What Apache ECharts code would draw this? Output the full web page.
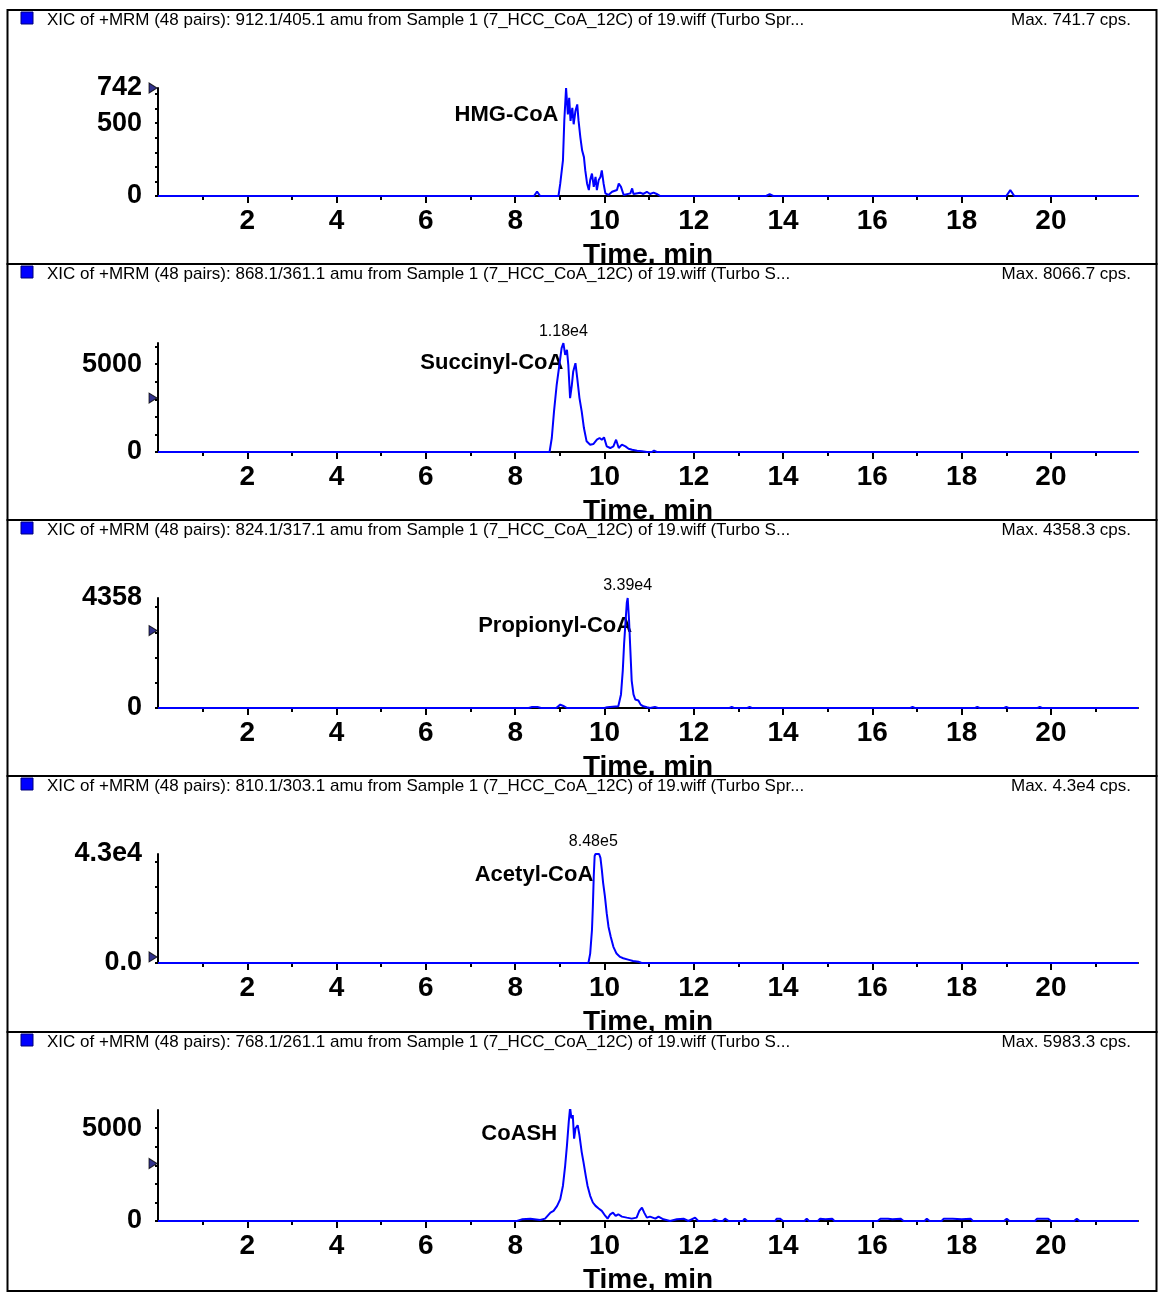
<!DOCTYPE html>
<html><head><meta charset="utf-8">
<script src="https://cdn.jsdelivr.net/npm/echarts@6/dist/echarts.min.js"></script>
<style>html,body{margin:0;padding:0;background:#fff}#c{width:1159px;height:1295px}</style>
</head><body><div id="c"></div>
<script>
// ---------------- DATA ----------------
const compoundNames = ['HMG-CoA', 'Succinyl-CoA', 'Propionyl-CoA', 'Acetyl-CoA', 'CoASH'];
const headerTexts = [
  'XIC of +MRM (48 pairs): 912.1/405.1 amu from Sample 1 (7_HCC_CoA_12C) of 19.wiff (Turbo Spr...',
  'XIC of +MRM (48 pairs): 868.1/361.1 amu from Sample 1 (7_HCC_CoA_12C) of 19.wiff (Turbo S...',
  'XIC of +MRM (48 pairs): 824.1/317.1 amu from Sample 1 (7_HCC_CoA_12C) of 19.wiff (Turbo S...',
  'XIC of +MRM (48 pairs): 810.1/303.1 amu from Sample 1 (7_HCC_CoA_12C) of 19.wiff (Turbo Spr...',
  'XIC of +MRM (48 pairs): 768.1/261.1 amu from Sample 1 (7_HCC_CoA_12C) of 19.wiff (Turbo S...'
];
const maxTexts = ['Max. 741.7 cps.', 'Max. 8066.7 cps.', 'Max. 4358.3 cps.', 'Max. 4.3e4 cps.', 'Max. 5983.3 cps.'];
const xAxisName = 'Time, min';
const xMax = 21.95;
const xMajorTicks = [2, 4, 6, 8, 10, 12, 14, 16, 18, 20];
const xMinorTicks = [1, 3, 5, 7, 9, 11, 13, 15, 17, 19, 21];
const yMax = [742, 6200, 4358, 43000, 5983];
const yLabelValues = [[0, 500, 742], [0, 5000], [0, 4358], [0, 43000], [0, 5000]];
const yLabelTexts = [['0', '500', '742'], ['0', '5000'], ['0', '4358'], ['0.0', '4.3e4'], ['0', '5000']];
const yTickValues = [
  [0, 100, 200, 300, 400, 500, 600, 700],
  [0, 1000, 2000, 3000, 4000, 5000, 6000],
  [0, 1000, 2000, 3000, 4000],
  [0, 10000, 20000, 30000, 40000],
  [0, 1000, 2000, 3000, 4000, 5000]
];
const thresholdMarks = [742, 3067, 3067, 2400, 3098];
const nameAnchors = [[8.97, 556], [9.08, 5055], [10.62, 3268], [9.75, 34600], [8.94, 4674]];
const peakLabels = [null, '1.18e4', '3.39e4', '8.48e5', '5.01e4'];
const peakLabelAnchors = [null, [9.08, 6190], [10.52, 4358], [9.75, 43000], [9.23, 6106]];

const hmgPoints = [[0,0],[8.42,0],[8.49,30],[8.56,0],[8.97,0],[9.01,86],[9.07,244],[9.10,516],[9.14,742],[9.18,561],[9.21,674],[9.24,516],[9.28,606],[9.31,493],[9.35,584],[9.39,629],[9.42,516],[9.46,403],[9.50,312],[9.54,267],[9.57,176],[9.61,86],[9.65,41],[9.68,109],[9.72,154],[9.76,63],[9.80,131],[9.83,41],[9.87,109],[9.91,131],[9.94,176],[9.98,86],[10.02,18],[10.09,7],[10.17,29],[10.28,41],[10.32,86],[10.37,63],[10.43,7],[10.58,18],[10.62,52],[10.65,14],[10.80,23],[10.87,14],[10.95,29],[11.02,14],[11.10,23],[11.17,14],[11.25,0],[13.62,0],[13.70,12],[13.78,0],[19.00,0],[19.09,40],[19.18,0],[21.95,0]];
const succinylPoints = [[0,0],[8.77,0],[8.82,795],[8.87,2310],[8.93,3824],[8.99,4960],[9.04,5906],[9.08,6190],[9.12,5528],[9.16,5812],[9.19,4960],[9.23,3067],[9.27,3824],[9.30,4581],[9.35,5054],[9.39,4203],[9.44,3067],[9.49,2310],[9.54,1363],[9.60,606],[9.68,416],[9.75,454],[9.83,700],[9.89,795],[9.94,700],[9.99,833],[10.05,322],[10.13,227],[10.20,322],[10.26,700],[10.32,227],[10.39,416],[10.47,322],[10.54,189],[10.62,132],[10.73,76],[10.84,38],[10.95,0],[11.06,0],[11.11,76],[11.17,0],[21.95,0]];
const propionylPoints = [[0,0],[8.30,0],[8.38,40],[8.50,40],[8.58,0],[8.92,0],[9.01,134],[9.08,80],[9.16,0],[10.00,0],[10.06,27],[10.31,67],[10.37,538],[10.41,1480],[10.44,2556],[10.47,3363],[10.50,4170],[10.52,4358],[10.55,3497],[10.58,2287],[10.61,1076],[10.65,538],[10.69,336],[10.76,296],[10.81,134],[10.87,67],[10.95,27],[11.02,0],[11.13,40],[11.20,0],[12.80,0],[12.85,40],[12.90,0],[13.20,0],[13.25,40],[13.30,0],[16.85,0],[16.90,40],[16.95,0],[18.30,0],[18.35,40],[18.40,0],[18.95,0],[19.00,40],[19.05,0],[19.70,0],[19.75,40],[19.80,0],[21.95,0]];
const acetylPoints = [[0,0],[9.64,0],[9.68,3716],[9.72,13000],[9.74,22290],[9.76,34240],[9.78,42200],[9.80,43000],[9.88,43000],[9.91,41500],[9.94,36900],[9.97,31580],[10.01,26270],[10.05,19640],[10.09,14330],[10.14,10350],[10.20,6370],[10.27,3716],[10.35,2390],[10.42,1860],[10.53,1330],[10.64,800],[10.76,530],[10.83,0],[21.95,0]];
const coashPoints = [[0,0],[8.04,0],[8.15,90],[8.34,127],[8.56,54],[8.67,127],[8.79,453],[8.86,544],[8.94,815],[9.01,1178],[9.07,1903],[9.12,2990],[9.16,4077],[9.20,5345],[9.23,6106],[9.26,5527],[9.29,5708],[9.32,4439],[9.35,4983],[9.40,5164],[9.44,4621],[9.49,3715],[9.53,3171],[9.58,2446],[9.62,1903],[9.68,1359],[9.74,997],[9.80,815],[9.87,670],[9.94,544],[10.02,272],[10.07,127],[10.13,362],[10.19,453],[10.25,272],[10.31,362],[10.39,236],[10.50,181],[10.61,127],[10.72,181],[10.78,544],[10.84,725],[10.89,453],[10.95,181],[11.02,236],[11.14,127],[11.21,236],[11.32,90],[11.47,0],[11.62,90],[11.77,127],[11.88,0],[12.03,181],[12.10,0],[12.40,0],[12.47,90],[12.55,0],[12.65,0],[12.70,127],[12.78,0],[13.10,0],[13.14,127],[13.20,0],[13.82,0],[13.86,127],[13.93,127],[14.00,0],[14.12,0],[14.16,90],[14.22,0],[14.48,0],[14.53,127],[14.58,0],[14.78,0],[14.83,127],[14.95,90],[15.10,127],[15.15,0],[16.12,0],[16.18,127],[16.35,127],[16.45,90],[16.63,127],[16.70,0],[17.17,0],[17.22,127],[17.28,0],[17.55,0],[17.60,127],[17.80,127],[18.00,90],[18.20,127],[18.25,0],[18.95,0],[19.01,127],[19.07,0],[19.64,0],[19.69,127],[19.94,127],[20.00,0],[20.52,0],[20.58,127],[20.64,0],[21.95,0]];
const seriesPoints = [hmgPoints, succinylPoints, propionylPoints, acetylPoints, coashPoints];

// ---------------- LAYOUT ----------------
const FONT = '"Liberation Sans", Arial, sans-serif';
const panelTops = [10, 264, 520, 776, 1032];
const panelBottom = 1291;
const gridTops = [88, 343, 598, 854, 1110];
const gridBottoms = [196, 452, 708, 963, 1222];
const gridLeft = 158, gridRight = 1138;

const chart = echarts.init(document.getElementById('c'), null, {renderer: 'canvas'});
const grids = [], xAxes = [], yAxes = [], series = [], graphics = [];

for (let i = 0; i < 5; i++) {
  grids.push({left: gridLeft, width: gridRight - gridLeft, top: gridTops[i], height: gridBottoms[i] - gridTops[i]});
  xAxes.push({
    type: 'value', gridIndex: i, min: 0, max: xMax,
    name: xAxisName, nameLocation: 'middle', nameGap: 45,
    nameTextStyle: {fontFamily: FONT, fontSize: 28, fontWeight: 'bold', color: '#000'},
    axisLine: {show: true, onZero: false, lineStyle: {color: '#000', width: 2}},
    axisTick: {show: true, length: 7, customValues: xMajorTicks, lineStyle: {color: '#000', width: 2}},
    axisLabel: {show: true, customValues: xMajorTicks, margin: 11, fontFamily: FONT, fontSize: 28, fontWeight: 'bold', color: '#000'},
    splitLine: {show: false}
  });
  xAxes.push({
    type: 'value', gridIndex: i, min: 0, max: xMax, position: 'bottom',
    axisLine: {show: false},
    axisTick: {show: true, length: 4, customValues: xMinorTicks, lineStyle: {color: '#000', width: 2}},
    axisLabel: {show: false}, splitLine: {show: false}
  });
  const labTexts = yLabelTexts[i], labVals = yLabelValues[i];
  yAxes.push({
    type: 'value', gridIndex: i, min: 0, max: yMax[i],
    axisLine: {show: true, onZero: false, lineStyle: {color: '#000', width: 2}},
    axisTick: {show: true, length: 3, customValues: yTickValues[i], lineStyle: {color: '#000', width: 2}},
    axisLabel: {show: true, customValues: labVals, margin: 16, fontFamily: FONT, fontSize: 27, fontWeight: 'bold', color: '#000',
      formatter: v => { const k = labVals.indexOf(v); return k >= 0 ? labTexts[k] : ''; }},
    splitLine: {show: false}
  });

  const markData = [{
    coord: nameAnchors[i], symbol: 'circle', symbolSize: 0,
    label: {show: true, position: 'left', distance: 0, formatter: compoundNames[i],
      fontFamily: FONT, fontSize: 22, fontWeight: 'bold', color: '#000'}
  }];
  if (peakLabels[i]) {
    markData.push({
      coord: peakLabelAnchors[i], symbol: 'circle', symbolSize: 0,
      label: {show: true, position: 'top', distance: 4, formatter: peakLabels[i],
        fontFamily: FONT, fontSize: 16, color: '#000'}
    });
  }
  series.push({
    type: 'line', xAxisIndex: i * 2, yAxisIndex: i, data: seriesPoints[i],
    showSymbol: false, symbol: 'none', silent: true, animation: false, z: 5,
    lineStyle: {color: '#0000ff', width: 2},
    markPoint: {silent: true, animation: false, data: markData}
  });
  series.push({
    type: 'scatter', xAxisIndex: i * 2, yAxisIndex: i, data: [[0, thresholdMarks[i]]],
    symbol: 'triangle', symbolSize: [10, 8], symbolRotate: -90, symbolOffset: [-5, 0],
    clip: false, silent: true, animation: false, z: 6,
    itemStyle: {color: '#000070', borderColor: '#000', borderWidth: 1}
  });

  const top = panelTops[i];
  const bottom = i < 4 ? panelTops[i + 1] : panelBottom;
  // clip strip so the axis name is cut by the next panel border
  graphics.push({type: 'rect', z: 100, shape: {x: 8, y: bottom, width: 1148, height: 6}, style: {fill: '#fff'}});
  graphics.push({type: 'rect', z: 101, shape: {x: 7.5, y: top, width: 1149, height: bottom - top},
    style: {fill: null, stroke: '#000', lineWidth: 2}});
  graphics.push({type: 'rect', z: 102, shape: {x: 21, y: top + 2, width: 12, height: 12},
    style: {fill: '#0000ff', stroke: '#00007a', lineWidth: 1}});
  graphics.push({type: 'text', z: 102, x: 47, y: top + 10,
    style: {text: headerTexts[i], fontFamily: FONT, fontSize: 17, fill: '#000', verticalAlign: 'middle', align: 'left'}});
  graphics.push({type: 'text', z: 102, x: 1131, y: top + 10,
    style: {text: maxTexts[i], fontFamily: FONT, fontSize: 17, fill: '#000', verticalAlign: 'middle', align: 'right'}});
}

chart.setOption({
  animation: false,
  backgroundColor: '#fff',
  grid: grids, xAxis: xAxes, yAxis: yAxes, series: series, graphic: graphics
});
</script></body></html>
